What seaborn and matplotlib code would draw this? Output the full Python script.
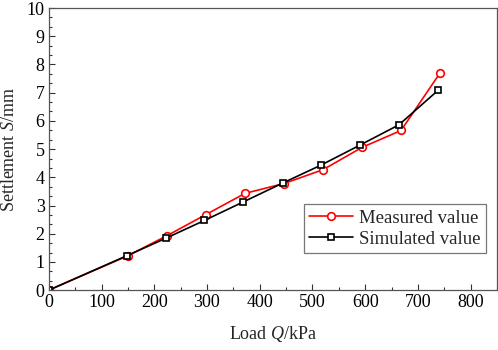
import numpy as np
import pandas as pd
import seaborn as sns
import matplotlib.pyplot as plt
from matplotlib.ticker import MultipleLocator, AutoMinorLocator

# load steps (kPa) and settlements (mm)
load_measured = [0, 150, 224, 298, 372, 446, 520, 594, 668, 742]
settle_measured = [0, 1.22, 1.93, 2.68, 3.43, 3.78, 4.27, 5.06, 5.66, 7.70]

load_simulated = [0, 148, 222, 295, 368, 444, 516, 590, 664, 738]
settle_simulated = [0, 1.22, 1.84, 2.47, 3.12, 3.80, 4.43, 5.14, 5.86, 7.08]

sns.set_style("ticks")
plt.rcParams['font.family'] = ['Liberation Serif', 'DejaVu Serif']
plt.rcParams['mathtext.fontset'] = 'custom'
plt.rcParams['mathtext.it'] = 'Liberation Serif:italic'
plt.rcParams['mathtext.rm'] = 'Liberation Serif'

df_m = pd.DataFrame({'load': load_measured, 'settle': settle_measured})
df_s = pd.DataFrame({'load': load_simulated, 'settle': settle_simulated})

fig, ax = plt.subplots(figsize=(4.98, 3.5), dpi=100)

sns.lineplot(data=df_m, x='load', y='settle', ax=ax, color='red', lw=1.2,
             marker='o', markersize=5.5, markerfacecolor='white',
             markeredgecolor='red', markeredgewidth=1.2, label='Measured value')
sns.lineplot(data=df_s, x='load', y='settle', ax=ax, color='black', lw=1.2,
             marker='s', markersize=4.8, markerfacecolor='white',
             markeredgecolor='black', markeredgewidth=1.2, label='Simulated value')

ax.set_xlim(0, 850)
ax.set_ylim(0, 10)
ax.xaxis.set_major_locator(MultipleLocator(100))
ax.xaxis.set_minor_locator(MultipleLocator(50))
ax.yaxis.set_major_locator(MultipleLocator(1))
ax.yaxis.set_minor_locator(AutoMinorLocator(3))
ax.tick_params(which='major', direction='in', length=4.5, width=0.8, labelsize=13,
               top=False, right=False, pad=3, colors='#333333', labelcolor='black')
ax.tick_params(which='minor', direction='in', length=2.5, width=0.8,
               top=False, right=False, colors='#333333')
for sp in ax.spines.values():
    sp.set_visible(True)
    sp.set_color('#555555')
    sp.set_linewidth(0.9)

ax.set_xlabel(r'Load $\mathit{Q}$/kPa', fontsize=13, labelpad=9)
ax.set_ylabel(r'Settlement $\mathit{S}$/mm', fontsize=13, labelpad=6)

leg = ax.legend(loc='lower right', bbox_to_anchor=(0.976, 0.13), fontsize=13.5,
                frameon=True, fancybox=False, edgecolor='#555555',
                borderpad=0.3, handlelength=2.3, handletextpad=0.35, labelspacing=0.2,
                borderaxespad=0)
leg.get_frame().set_linewidth(0.9)

plt.subplots_adjust(left=0.098, right=0.998, top=0.977, bottom=0.171)
plt.savefig('out.png', dpi=100)
